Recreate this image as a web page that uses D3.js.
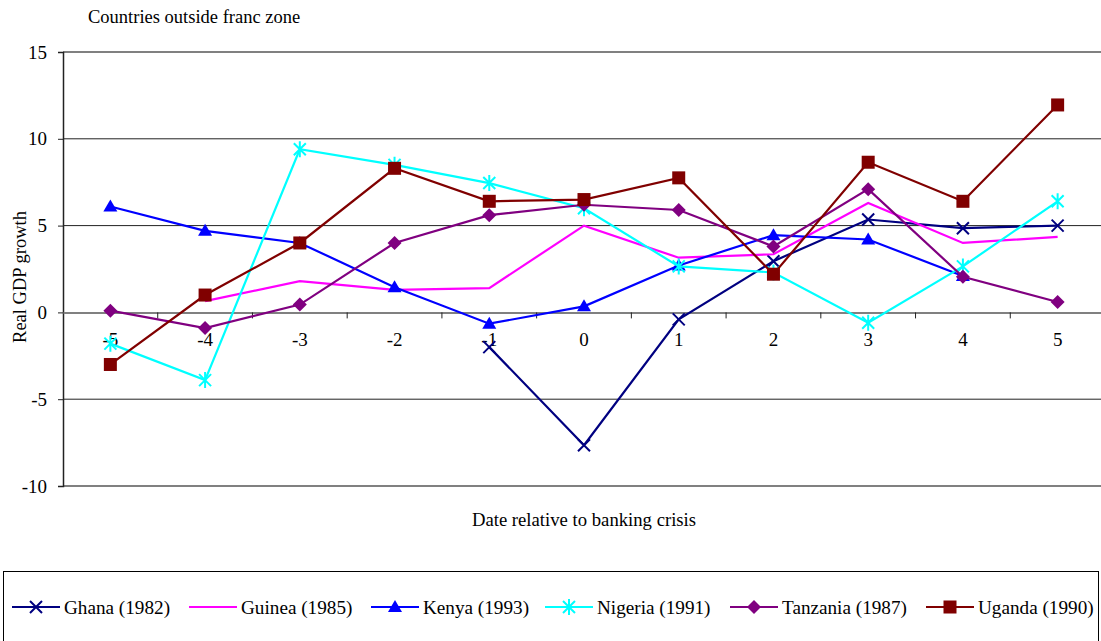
<!DOCTYPE html>
<html>
<head>
<meta charset="utf-8">
<script src="https://cdn.jsdelivr.net/npm/d3@7"></script>
<style>
  body { margin: 0; background: #fff; }
  text { font-family: "Liberation Serif", "Times New Roman", serif; fill: #000; }
</style>
</head>
<body>
<div id="chart"></div>
<script>

// data

var dates = [-5, -4, -3, -2, -1, 0, 1, 2, 3, 4, 5];
var yTicks = [-10, -5, 0, 5, 10, 15];

var ghana    = [null, null, null, null, -2.0, -7.65, -0.4, 2.95, 5.35, 4.85, 5.0];
var guinea   = [null, 0.65, 1.8, 1.3, 1.4, 5.0, 3.15, 3.35, 6.3, 4.0, 4.35];
var kenya    = [6.1, 4.7, 4.0, 1.45, -0.65, 0.35, 2.7, 4.45, 4.2, 2.1, null];
var nigeria  = [-1.8, -3.9, 9.4, 8.5, 7.45, 6.0, 2.65, 2.3, -0.6, 2.65, 6.4];
var tanzania = [0.1, -0.9, 0.45, 4.0, 5.6, 6.2, 5.9, 3.8, 7.1, 2.05, 0.6];
var uganda   = [-3.0, 1.0, 4.0, 8.3, 6.4, 6.5, 7.75, 2.2, 8.65, 6.4, 11.95];

var series = [
  { name: "Ghana (1982)",    values: ghana,    color: "#000080", marker: "x" },
  { name: "Guinea (1985)",   values: guinea,   color: "#ff00ff", marker: "none" },
  { name: "Kenya (1993)",    values: kenya,    color: "#0000ff", marker: "triangle" },
  { name: "Nigeria (1991)",  values: nigeria,  color: "#00ffff", marker: "star" },
  { name: "Tanzania (1987)", values: tanzania, color: "#800080", marker: "diamond" },
  { name: "Uganda (1990)",   values: uganda,   color: "#800000", marker: "square" }
];

// sizes

var width = 1101,
    height = 641,
    plotLeft = 63,
    plotRight = 1105,
    plotTop = 52,
    plotBottom = 486;

var svg = d3.select("#chart").append("svg")
  .attr("width", width)
  .attr("height", height);

// scales

var x = d3.scaleBand()
  .domain(dates)
  .range([plotLeft, plotRight])
  .padding(0);

var y = d3.scaleLinear()
  .domain([-10, 15])
  .range([plotBottom, plotTop]);

function cx(d) { return x(d) + x.bandwidth() / 2; }

// gridlines

svg.append("g")
  .selectAll("line")
  .data(yTicks.filter(function(d) { return d != 0 && d != 15 && d != -10; }))
  .enter()
    .append("line")
      .attr("x1", plotLeft)
      .attr("x2", plotRight)
      .attr("y1", function(d) { return y(d); })
      .attr("y2", function(d) { return y(d); })
      .attr("stroke", "#222")
      .attr("stroke-width", 1);

// plot border top/bottom

[15, -10].forEach(function(v) {
  svg.append("line")
    .attr("x1", plotLeft).attr("x2", plotRight)
    .attr("y1", y(v)).attr("y2", y(v))
    .attr("stroke", "#808080")
    .attr("stroke-width", 2);
});

// y axis

var yAxis = svg.append("g")
  .attr("transform", "translate(" + plotLeft + ",0)")
  .call(d3.axisLeft(y).tickValues(yTicks).tickSize(5).tickPadding(11)
    .tickFormat(function(d) { return String(d); }));

yAxis.select(".domain").attr("stroke", "#222").attr("stroke-width", 1.5);
yAxis.selectAll(".tick line").attr("stroke", "#222");
yAxis.selectAll(".tick text")
  .style("font-family", "'Liberation Serif', serif")
  .style("font-size", "19px")
  .attr("fill", "#000");

// x axis crossing at zero

var xAxis = svg.append("g")
  .attr("transform", "translate(0," + y(0) + ")")
  .call(d3.axisBottom(x).tickSize(0).tickPadding(20)
    .tickFormat(function(d) { return String(d); }));

xAxis.select(".domain").attr("stroke", "#808080").attr("stroke-width", 2);
xAxis.selectAll(".tick text")
  .style("font-family", "'Liberation Serif', serif")
  .style("font-size", "19px")
  .attr("fill", "#000");

// tick marks between categories

svg.append("g")
  .selectAll("line")
  .data(dates.slice(1))
  .enter()
    .append("line")
      .attr("x1", function(d) { return x(d); })
      .attr("x2", function(d) { return x(d); })
      .attr("y1", y(0))
      .attr("y2", y(0) + 6)
      .attr("stroke", "#222");

// titles

svg.append("text")
  .attr("x", 88)
  .attr("y", 23)
  .style("font-size", "18.5px")
  .text("Countries outside franc zone");

svg.append("text")
  .attr("transform", "translate(26,277) rotate(-90)")
  .style("text-anchor", "middle")
  .style("font-size", "18.5px")
  .text("Real GDP growth");

svg.append("text")
  .attr("x", 584)
  .attr("y", 526)
  .style("text-anchor", "middle")
  .style("font-size", "18.7px")
  .text("Date relative to banking crisis");

// markers

function drawMarker(g, type, color) {
  if (type == "x") {
    g.append("path").attr("d", "M-6,-6L6,6M-6,6L6,-6")
      .attr("stroke", color).attr("stroke-width", 2).attr("fill", "none");
  } else if (type == "triangle") {
    g.append("path").attr("d", "M0,-7L7,5L-7,5Z").attr("fill", color);
  } else if (type == "star") {
    g.append("path").attr("d", "M-6,-6L6,6M-6,6L6,-6M0,-8L0,8")
      .attr("stroke", color).attr("stroke-width", 2).attr("fill", "none");
  } else if (type == "diamond") {
    g.append("path").attr("d", "M0,-7L7,0L0,7L-7,0Z").attr("fill", color);
  } else if (type == "square") {
    g.append("rect").attr("x", -6.5).attr("y", -6.5).attr("width", 13).attr("height", 13)
      .attr("fill", color);
  }
}

// lines

var line = d3.line()
  .defined(function(d) { return d.v != null; })
  .x(function(d) { return cx(d.date); })
  .y(function(d) { return y(d.v); });

series.forEach(function(s) {
  var pts = dates.map(function(d, i) { return { date: d, v: s.values[i] }; });

  svg.append("path")
    .datum(pts)
    .attr("d", line)
    .attr("fill", "none")
    .attr("stroke", s.color)
    .attr("stroke-width", 2.2);

  pts.filter(function(p) { return p.v != null; }).forEach(function(p) {
    var g = svg.append("g")
      .attr("transform", "translate(" + cx(p.date) + "," + y(p.v) + ")");
    drawMarker(g, s.marker, s.color);
  });
});

// legend

svg.append("rect")
  .attr("x", 3.5)
  .attr("y", 571.5)
  .attr("width", 1095)
  .attr("height", 80)
  .attr("fill", "none")
  .attr("stroke", "#000")
  .attr("stroke-width", 1);

var legendX = [12, 189, 371, 545, 730, 926];

series.forEach(function(s, i) {
  var lg = svg.append("g")
    .attr("transform", "translate(" + legendX[i] + ",607)");

  lg.append("line")
    .attr("x1", 0).attr("x2", 48)
    .attr("y1", 0).attr("y2", 0)
    .attr("stroke", s.color)
    .attr("stroke-width", 2.2);

  var m = lg.append("g").attr("transform", "translate(24,0)");
  drawMarker(m, s.marker, s.color);

  lg.append("text")
    .attr("x", 52)
    .attr("y", 7)
    .style("font-size", "19.2px")
    .text(s.name);
});

</script>
</body>
</html>
